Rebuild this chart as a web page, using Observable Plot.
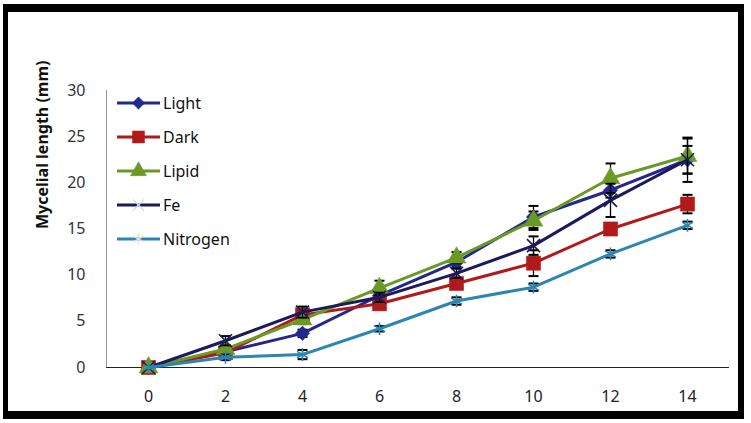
<!DOCTYPE html>
<html>
<head>
<meta charset="utf-8">
<script src="https://cdn.jsdelivr.net/npm/d3@7"></script>
<script src="https://cdn.jsdelivr.net/npm/@observablehq/plot@0.6"></script>
<style>
  html, body { margin: 0; padding: 0; background: #fff; }
  #wrap { position: relative; width: 751px; height: 423px; overflow: hidden; }
  #border { position: absolute; left: 3px; top: 4px; width: 730px; height: 399px;
            border-style: solid; border-color: #000; border-width: 8px 6px 8px 5px; pointer-events: none; }
  #legend { position: absolute; left: 117px; top: 0; font-family: "Noto Sans", sans-serif; font-size: 16px; color: #111; }
  .item { position: absolute; display: flex; align-items: center; white-space: nowrap; }
  .item svg { display: block; }
  .item span { margin-left: 3px; }
</style>
</head>
<body>
<div id="wrap">
  <div id="chart"></div>
  <div id="legend"></div>
  <div id="border"></div>
</div>
<script>
// ---- data ----
const days = [0, 2, 4, 6, 8, 10, 12, 14];
const seriesNames = ["Light", "Dark", "Lipid", "Fe", "Nitrogen"];
const light    = [0, 1.7, 3.7, 7.8, 11.4, 16.3, 19.2, 22.5];
const dark     = [0, 1.6, 5.7, 6.9, 9.1, 11.3, 15.0, 17.7];
const lipid    = [0, 2.0, 5.2, 8.6, 11.9, 15.9, 20.5, 22.9];
const fe       = [0, 2.9, 6.0, 7.6, 10.2, 13.2, 18.1, 22.5];
const nitrogen = [0, 1.1, 1.4, 4.2, 7.2, 8.7, 12.3, 15.4];
const lightErr    = [0, 0.3, 0.4, 0.5, 0.5, 1.2, 0.8, 2.4];
const darkErr     = [0, 0.3, 0.4, 0.4, 0.6, 1.4, 0.5, 1.0];
const lipidErr    = [0, 0.4, 0.5, 0.8, 0.6, 1.0, 1.6, 1.9];
const feErr       = [0, 0.5, 0.6, 0.5, 0.5, 1.0, 1.8, 1.5];
const nitrogenErr = [0, 0.3, 0.5, 0.3, 0.4, 0.4, 0.4, 0.4];
const yTicks = [0, 5, 10, 15, 20, 25, 30];
const yTitle = "Mycelial length (mm)";

// ---- styles ----
const colors  = {Light: "#23288f", Dark: "#b01a1a", Lipid: "#6b9a24", Fe: "#1d1a5c", Nitrogen: "#2b86b2"};
const symbols = {Light: "diamond2", Dark: "square", Lipid: "triangle", Fe: "times", Nitrogen: "asterisk"};
const sizes   = {Light: 6.5, Dark: 8, Lipid: 7, Fe: 6, Nitrogen: 6};
const filled  = {Light: true, Dark: true, Lipid: true, Fe: false, Nitrogen: false};

const values = [light, dark, lipid, fe, nitrogen];
const errs = [lightErr, darkErr, lipidErr, feErr, nitrogenErr];

// horizontal cap symbol for error bars
const capSymbol = {
  draw(context, size) {
    const w = 5;
    context.moveTo(-w, 0);
    context.lineTo(w, 0);
  }
};

const marks = [
  Plot.frame({anchor: "left", stroke: "#9a9a9a"}),
  Plot.ruleY([0], {stroke: "#222", strokeWidth: 1.2}),
  Plot.axisY({ticks: yTicks, tickSize: 0, tickPadding: 21, label: null, fontSize: 16, fill: "#333"}),
  Plot.axisX({tickSize: 0, tickPadding: 23, label: null, fontSize: 16, fill: "#222"}),
  Plot.text([yTitle], {frameAnchor: "left", dx: -64, rotate: -90, fontWeight: "bold", fontSize: 16, fill: "#111"})
];

seriesNames.forEach((name, k) => {
  const rows = days.map((d, i) => ({day: d, v: values[k][i], e: errs[k][i], lo: values[k][i] - errs[k][i], hi: values[k][i] + errs[k][i]}));
  const eb = rows.filter(r => r.e > 0);
  const c = colors[name];
  marks.push(Plot.line(rows, {x: "day", y: "v", stroke: c, strokeWidth: 3}));
  marks.push(Plot.ruleX(eb, {x: "day", y1: "lo", y2: "hi", stroke: "#000", strokeWidth: 1.3}));
  marks.push(Plot.dot(eb, {x: "day", y: "hi", symbol: capSymbol, r: 5, fill: "none", stroke: "#000", strokeWidth: 2}));
  marks.push(Plot.dot(eb, {x: "day", y: "lo", symbol: capSymbol, r: 5, fill: "none", stroke: "#000", strokeWidth: 2}));
  if (filled[name]) {
    marks.push(Plot.dot(rows, {x: "day", y: "v", symbol: symbols[name], r: sizes[name], fill: c, stroke: c, strokeWidth: 0.5}));
  } else {
    marks.push(Plot.dot(rows, {x: "day", y: "v", symbol: symbols[name], r: sizes[name], fill: "none", stroke: c, strokeWidth: 1.6}));
  }
});

const chart = Plot.plot({
  width: 751,
  height: 423,
  marginLeft: 106,
  marginRight: 22,
  marginTop: 90,
  marginBottom: 56,
  style: {fontFamily: "Noto Sans, sans-serif", background: "#fff", overflow: "visible"},
  x: {type: "point", domain: days, padding: 0.5},
  y: {domain: [0, 30]},
  marks
});
document.getElementById("chart").appendChild(chart);

// ---- legend (HTML overlay) ----
const legend = d3.select("#legend");
const d3sym = {diamond2: d3.symbolDiamond2, square: d3.symbolSquare, triangle: d3.symbolTriangle, times: d3.symbolTimes, asterisk: d3.symbolAsterisk};
const legendTop = 103, legendStep = 34;
seriesNames.forEach((name, k) => {
  const item = legend.append("div").attr("class", "item").style("top", (legendTop + k * legendStep - 12) + "px").style("height", "24px");
  const svg = item.append("svg").attr("width", 43).attr("height", 24);
  svg.append("line").attr("x1", 0).attr("x2", 43).attr("y1", 12).attr("y2", 12).attr("stroke", colors[name]).attr("stroke-width", 3);
  const r = sizes[name] * 0.85;
  svg.append("path")
    .attr("transform", "translate(21.5,12)")
    .attr("d", d3.symbol(d3sym[symbols[name]], Math.PI * r * r)())
    .attr("fill", filled[name] ? colors[name] : "none")
    .attr("stroke", filled[name] ? colors[name] : "#ddd")
    .attr("stroke-width", filled[name] ? 0.5 : 1.4);
  item.append("span").text(name);
});
</script>
</body>
</html>
